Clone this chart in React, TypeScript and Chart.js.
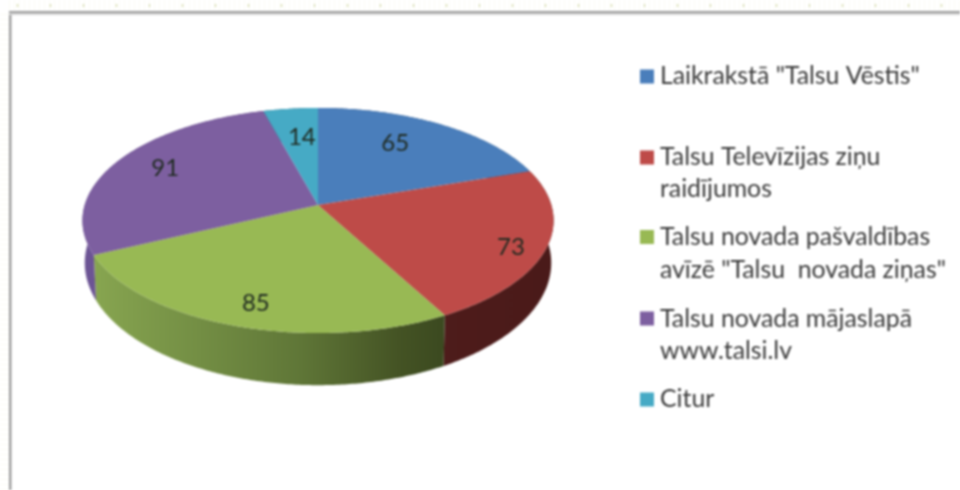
import React, { useEffect, useRef } from "react";
import { Chart, registerables } from "chart.js";

Chart.register(...registerables);

const categories: string[][] = [
  ['Laikrakstā "Talsu Vēstis"'],
  ["Talsu Televīzijas ziņu", "raidījumos"],
  ["Talsu novada pašvaldības", 'avīzē "Talsu  novada ziņas"'],
  ["Talsu novada mājaslapā", "www.talsi.lv"],
  ["Citur"],
];
const values = [65, 73, 85, 91, 14];
const colors = ["#4a7ebb", "#be4b48", "#98b954", "#7d5fa0", "#46aac5"];
const sideStops: [number, string][][] = [
  [[0, "#2c4a70"], [1, "#2c4a70"]],
  [[0, "#4e1c1b"], [1, "#4a1a19"]],
  [[0, "#87a550"], [0.3, "#738e44"], [0.59, "#5f7637"], [0.87, "#445324"], [1, "#3b4920"]],
  [[0, "#6d5595"], [1, "#5c4583"]],
  [[0, "#2a6676"], [1, "#2a6676"]],
];

// Presentation of the value labels and legend (not data).
const labelRadius = [0.7, 0.865, 0.83, 0.77, 0.67];
const labelNudgeDeg = [-4.9, 3.3, -1.5, 2.3, 1.2];
const legendSwatchCentre = [76.5, 157.5, 237, 318.5, 399.5];
const legendBaselines = [[84], [165, 197], [245, 278], [327, 359], [407]];

// Perspective projection of the pie disc.
const P = 0.1378;
const X0 = 318;
const top = { y0: 205, a: 233.3, b: 110.4 };
const bottom = { y0: 246, a: 231, b: 120 };
const project = (rim: typeof top, t: number, r = 1) => {
  const u = Math.cos(t) * r;
  const v = Math.sin(t) * r;
  const w = 1 - P * v;
  return { x: X0 + (rim.a * u) / w, y: rim.y0 + (rim.b * v) / w };
};

const pie3d = {
  id: "pie3d",
  beforeDraw(chart: any) {
    const { ctx, width, height } = chart;
    ctx.save();
    ctx.fillStyle = "#ffffff";
    ctx.fillRect(0, 0, width, height);
    ctx.fillStyle = "#fbfbf4";
    ctx.fillRect(0, 0, width, 10);
    ctx.fillRect(0, 0, 9, height);
    ctx.fillStyle = "#ffffff";
    for (let x = 0; x < width; x += 5) ctx.fillRect(x, 0, 4, 10);
    for (let y = 0; y < height; y += 5) ctx.fillRect(0, y, 9, 4);
    ctx.fillStyle = "#c9cf94";
    for (let x = 17; x < width; x += 33) ctx.fillRect(x, 4, 1, 3);
    ctx.fillStyle = "#9c9c9c";
    ctx.fillRect(9, 11, width - 9, 2);
    ctx.fillRect(9, 11, 2, height - 11);
    ctx.fillStyle = "#d4d4d4";
    ctx.fillRect(9, 13, width - 9, 2);
    ctx.fillRect(11, 13, 1, height - 13);
    ctx.restore();
  },
  beforeDatasetsDraw(chart: any) {
    const { ctx } = chart;
    const arcs = chart.getDatasetMeta(0).data;
    const samples = (a: any) => {
      const n = Math.max(2, Math.ceil((a.endAngle - a.startAngle) / 0.01));
      return Array.from({ length: n + 1 }, (_, i) => a.startAngle + ((a.endAngle - a.startAngle) * i) / n);
    };
    // side walls
    arcs.forEach((a: any, i: number) => {
      const ts = samples(a);
      const topPts = ts.map((t: number) => project(top, t));
      const botPts = ts.map((t: number) => project(bottom, t));
      const xs = topPts.concat(botPts).map((p: any) => p.x);
      const g = ctx.createLinearGradient(Math.min(...xs), 0, Math.max(...xs), 0);
      sideStops[i].forEach(([o, c]) => g.addColorStop(o, c));
      ctx.beginPath();
      topPts.forEach((p: any, k: number) => (k ? ctx.lineTo(p.x, p.y) : ctx.moveTo(p.x, p.y)));
      botPts.reverse().forEach((p: any) => ctx.lineTo(p.x, p.y));
      ctx.closePath();
      ctx.fillStyle = g;
      ctx.fill();
    });
    // top face
    arcs.forEach((a: any) => {
      const ts = samples(a);
      ctx.beginPath();
      ctx.moveTo(X0, top.y0);
      ts.forEach((t: number) => {
        const p = project(top, t);
        ctx.lineTo(p.x, p.y);
      });
      ctx.closePath();
      ctx.fillStyle = a.options.backgroundColor;
      ctx.fill();
    });
    return false;
  },
  afterDraw(chart: any) {
    const { ctx } = chart;
    const arcs = chart.getDatasetMeta(0).data;
    ctx.save();
    ctx.fillStyle = "#1f2a20";
    ctx.font = "24px Lato";
    ctx.textAlign = "center";
    ctx.textBaseline = "middle";
    arcs.forEach((a: any, i: number) => {
      const mid = (a.startAngle + a.endAngle) / 2 + (labelNudgeDeg[i] * Math.PI) / 180;
      const p = project(top, mid, labelRadius[i]);
      ctx.fillText(String(chart.data.datasets[0].data[i]), p.x, p.y);
    });
    ctx.textAlign = "left";
    ctx.textBaseline = "alphabetic";
    chart.data.labels.forEach((lines: string[], i: number) => {
      ctx.fillStyle = colors[i];
      ctx.fillRect(640, legendSwatchCentre[i] - 7, 14, 14);
      ctx.fillStyle = "#3a3a3a";
      ctx.font = "24.8px Lato";
      lines.forEach((line, k) => ctx.fillText(line, 660, legendBaselines[i][k]));
    });
    ctx.restore();
  },
};

export default function App() {
  const ref = useRef<HTMLCanvasElement>(null);
  useEffect(() => {
    document.body.style.margin = "0";
    const chart = new Chart(ref.current as HTMLCanvasElement, {
      type: "pie",
      data: {
        labels: categories as any,
        datasets: [{ data: values, backgroundColor: colors, borderWidth: 0 }],
      },
      options: {
        animation: false,
        responsive: false,
        plugins: { legend: { display: false }, tooltip: { enabled: false } },
      },
      plugins: [pie3d as any],
    });
    return () => chart.destroy();
  }, []);
  return (
    <div style={{ width: 960, height: 490, overflow: "hidden" }}>
      <canvas ref={ref} width={960} height={490} style={{ display: "block", filter: "blur(0.8px)" }} />
    </div>
  );
}
